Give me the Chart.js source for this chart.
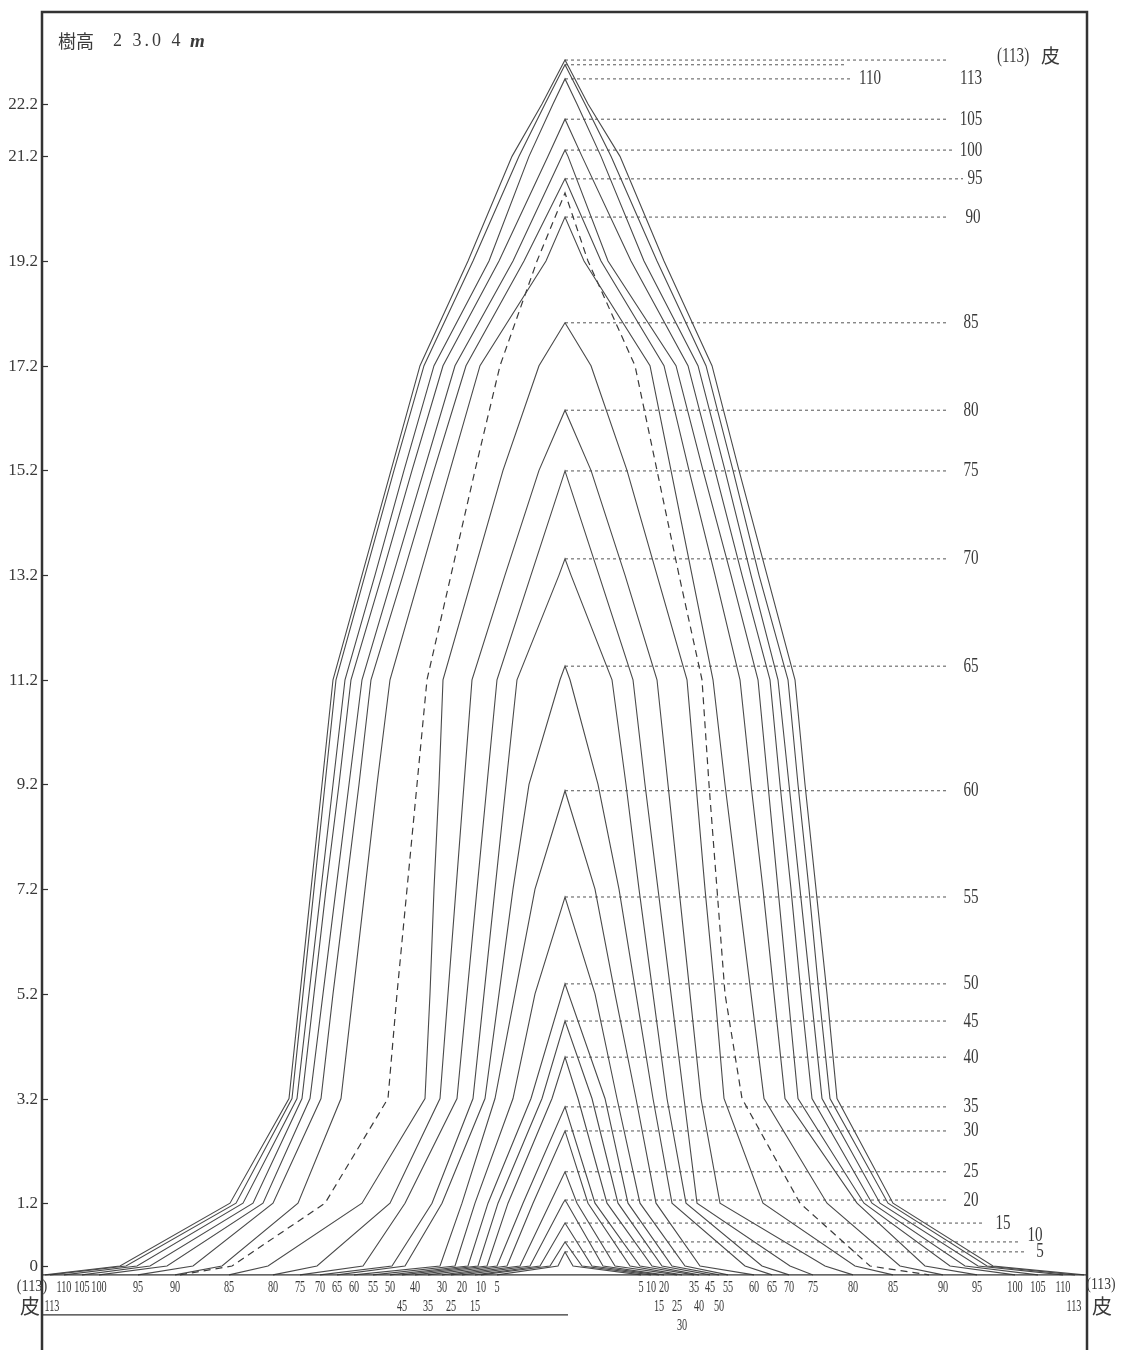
<!DOCTYPE html>
<html>
<head>
<meta charset="utf-8">
<script src="https://cdn.jsdelivr.net/npm/chart.js@4.4.0/dist/chart.umd.min.js"></script>
<style>
  html, body { margin: 0; padding: 0; background: #fff; overflow: hidden; }
</style>
</head>
<body>
<canvas id="stemChart" width="1121" height="1360"></canvas>
<script>
// --- Section heights (m). First entry is the ground line under the stump ---
const sectionHeights = [-0.17, 0, 1.2, 3.2, 5.2, 7.2, 9.2, 11.2, 13.2, 15.2, 17.2, 19.2, 21.2, 22.2];
const heightTicks = [0, 1.2, 3.2, 5.2, 7.2, 9.2, 11.2, 13.2, 15.2, 17.2, 19.2, 21.2, 22.2];

// --- Ages and tree height reached at each age (m) ---
const ageLabels = ['5', '10', '15', '20', '25', '30', '35', '40', '45', '50', '55', '60',
                   '65', '70', '75', '80', '85', '90', '95', '100', '105', '110', '113'];
const treeTops = [0.27, 0.46, 0.82, 1.26, 1.80, 2.58, 3.04, 3.99, 4.68, 5.39, 7.05, 9.08,
                  11.46, 13.51, 15.19, 16.35, 18.02, 20.04, 20.77, 21.32, 21.91, 22.68, 22.95];
const barkTop = 23.04;
const dashedTop = 20.5;

// --- Radius (mm) at each section, west side / east side ---
const left5 = [34, 3.5];
const right5 = [38, 4];
const left10 = [42, 7.5];
const right10 = [43, 8.5];
const left15 = [45, 12.5];
const right15 = [47, 13.5];
const left20 = [51.5, 17.5, 1];
const right20 = [49.5, 19, 1];
const left25 = [57, 22.5, 7.5];
const right25 = [56, 25, 6];
const left30 = [61.5, 29, 16];
const right30 = [58.5, 32.5, 11.5];
const left35 = [68.5, 34, 21];
const right35 = [64.5, 37.5, 15];
const left40 = [75, 39, 28.5, 6.5];
const right40 = [67, 43.5, 21, 6.5];
const left45 = [81.5, 43.5, 33.5, 11.5];
const right45 = [72.5, 48.5, 26.5, 13.5];
const left50 = [87.5, 48.5, 38.5, 17];
const right50 = [77, 53.5, 31.5, 20];
const left55 = [96, 55, 45, 26, 15];
const right55 = [81.5, 60, 37.5, 26, 15];
const left60 = [105.5, 62.5, 51.5, 35, 25, 15];
const right60 = [94.5, 67.5, 45.5, 35.5, 25, 15];
const left65 = [114, 80, 61.5, 40, 33, 26, 18, 2.5];
const right65 = [103.5, 90, 53.5, 44, 35.5, 27, 16.5, 2.5];
const left70 = [122.5, 86.5, 66.5, 46, 40.5, 35, 29.5, 24, 3];
const right70 = [112, 98.5, 60.5, 51, 44, 37, 30.5, 23.5, 3];
const left75 = [132.5, 101, 80, 54, 49, 44, 39, 34, 17];
const right75 = [124, 112.5, 66, 59.5, 53, 46.5, 40, 34, 17];
const left80 = [146, 124, 87.5, 62.5, 58.5, 54.5, 50.5, 46.5, 30, 13];
const right80 = [144, 130, 77.5, 68, 62.5, 57, 51.5, 46, 30, 13];
const left85 = [168, 148.5, 101.5, 70, 67.5, 65.5, 63, 61, 46, 31, 13];
const right85 = [164, 145, 99, 79.5, 75, 70, 65.5, 61, 46, 31, 13];
const left90 = [195, 171.5, 133.5, 112, 106, 100, 94, 87.5, 72.5, 57.5, 42.5, 9.5];
const right90 = [189, 167.5, 131, 99.5, 93, 86.5, 80, 74, 63.5, 53, 42.5, 9.5];
const left95 = [213.5, 186, 146, 122, 116, 109.5, 103, 97, 81, 65.5, 49.5, 20.5];
const right95 = [206, 180, 146, 110, 104.5, 99, 93, 87.5, 75, 62, 49.5, 18];
const left100 = [233, 199, 151, 127.5, 121, 114.5, 108, 101.5, 86, 70.5, 55, 26, 1.5];
const right100 = [225, 192.5, 149.5, 116.5, 111.5, 106.5, 101.5, 96.5, 83, 69, 55.5, 21.5, 1.5];
const left105 = [241.5, 207.5, 156, 131.5, 125.5, 119.5, 113, 107, 91.5, 76.5, 61, 33, 8.5];
const right105 = [236.5, 200, 153.5, 123.5, 118, 113, 107.5, 102.5, 88.5, 75, 61.5, 33, 8.5];
const left110 = [250.5, 214, 161, 134, 128, 122, 116, 110, 95, 80.5, 65.5, 38, 18, 6];
const right110 = [249, 206.5, 157.5, 128.5, 123, 117.5, 112, 106.5, 93, 80, 66.5, 39.5, 18, 6];
const left113 = [257.5, 219.5, 164.5, 136.5, 131, 125.5, 120, 114.5, 100, 85.5, 70.5, 46, 23, 10];
const right113 = [255, 211, 161.5, 132.5, 127, 122, 116.5, 111.5, 97, 84, 70.5, 46, 23, 10];
const leftBark = [260, 222.5, 167.5, 138, 132.5, 127, 121.5, 116, 101.5, 87, 72.5, 48.5, 26.5, 11.5];
const rightBark = [259.5, 214, 164, 136, 131, 125.5, 120, 115, 101, 87, 73.5, 49.5, 27.5, 11.5];
const leftDashed = [192.5, 166.5, 120, 88.5, 84, 79, 74, 69, 57, 45, 32.5, 14];
const rightDashed = [182, 152.5, 117.5, 88.5, 80, 76, 72, 68.5, 57, 46, 35, 11.5];

const leftRadii = [left5, left10, left15, left20, left25, left30, left35, left40, left45, left50,
                   left55, left60, left65, left70, left75, left80, left85, left90, left95, left100,
                   left105, left110, left113];
const rightRadii = [right5, right10, right15, right20, right25, right30, right35, right40, right45,
                    right50, right55, right60, right65, right70, right75, right80, right85, right90,
                    right95, right100, right105, right110, right113];

// --- Label layout (mm along the radius axis, rows under the ground line) ---
const leftRow = { '45': 2, '35': 2, '25': 2, '15': 2, '113': 2 };
const rightRow = { '15': 2, '25': 2, '40': 2, '50': 2, '113': 2, '30': 3 };
const leaderEnd = { '113': 141, '110': 144, '100': 195, '95': 199, '15': 210, '10': 227, '5': 230 };
const leaderLabelX = { '110': 152.5, '95': 205, '90': 204, '15': 219, '10': 235, '5': 237.5 };
const leaderLabelDy = { '113': 14, '10': -6 };

const INK = '#4a4a4a';
const SERIF = '"Liberation Serif", "DejaVu Serif", serif';
const CJK = '"Noto Sans CJK JP", sans-serif';

function profilePoints(left, right, top) {
    const pts = [];
    for (let i = 0; i < left.length; i++) pts.push({ x: -left[i], y: sectionHeights[i] });
    pts.push({ x: 0, y: top });
    for (let i = right.length - 1; i >= 0; i--) pts.push({ x: right[i], y: sectionHeights[i] });
    return pts;
}

const datasets = [];
for (let i = 0; i < ageLabels.length; i++) {
    datasets.push({
        label: ageLabels[i],
        data: profilePoints(leftRadii[i], rightRadii[i], treeTops[i]),
        borderColor: INK, borderWidth: 1.1
    });
}
datasets.push({ label: '皮', data: profilePoints(leftBark, rightBark, barkTop), borderColor: INK, borderWidth: 1.1 });
datasets.push({ label: 'dashed', data: profilePoints(leftDashed, rightDashed, dashedTop),
                borderColor: '#3a3a3a', borderWidth: 1.2, borderDash: [7, 5] });

// dotted leaders from each top to its age label
for (let i = 0; i < ageLabels.length; i++) {
    const end = leaderEnd[ageLabels[i]] !== undefined ? leaderEnd[ageLabels[i]] : 192;
    datasets.push({ label: 'lead' + ageLabels[i], data: [{ x: 0, y: treeTops[i] }, { x: end, y: treeTops[i] }],
                    borderColor: '#555', borderWidth: 1, borderDash: [3, 3] });
}
datasets.push({ label: 'leadBark', data: [{ x: 0, y: barkTop }, { x: 192, y: barkTop }],
                borderColor: '#555', borderWidth: 1, borderDash: [3, 3] });

function condensedText(ctx, text, x, y, size, squeeze, align) {
    ctx.save();
    ctx.font = size + 'px ' + SERIF;
    ctx.translate(x, y);
    ctx.scale(squeeze, 1);
    ctx.textAlign = align || 'center';
    ctx.textBaseline = 'middle';
    ctx.fillText(text, 0, 0);
    ctx.restore();
}

const stemDecor = {
    id: 'stemDecor',
    afterDraw(chart) {
        const ctx = chart.ctx;
        const xs = chart.scales.x, ys = chart.scales.y;
        const area = chart.chartArea;
        ctx.save();
        ctx.fillStyle = '#3a3a3a';
        ctx.strokeStyle = '#333';

        // frame
        ctx.lineWidth = 2.5;
        ctx.strokeRect(area.left, area.top, area.right - area.left, area.bottom - area.top);

        // height ticks inside the frame, values outside
        ctx.lineWidth = 1.2;
        heightTicks.forEach(v => {
            const py = Math.round(ys.getPixelForValue(v)) + 0.5;
            ctx.beginPath(); ctx.moveTo(area.left, py); ctx.lineTo(area.left + 6, py); ctx.stroke();
            condensedText(ctx, v === 0 ? '0' : v.toFixed(1), area.left - 4, py, 17, 1, 'right');
        });

        // ground line and the rule under the west labels
        const gy = ys.getPixelForValue(sectionHeights[0]);
        ctx.lineWidth = 1.2;
        ctx.beginPath(); ctx.moveTo(area.left, gy); ctx.lineTo(area.right, gy); ctx.stroke();
        ctx.beginPath(); ctx.moveTo(area.left, gy + 40); ctx.lineTo(xs.getPixelForValue(1.5), gy + 40); ctx.stroke();

        // ages along the ground
        const rowY = [0, gy + 13, gy + 32, gy + 51];
        for (let i = 0; i < ageLabels.length; i++) {
            const a = ageLabels[i];
            const lx = xs.getPixelForValue(-leftRadii[i][0]) + (a === '113' ? 2 : 0);
            const rx = xs.getPixelForValue(rightRadii[i][0]) + (a === '113' ? -1 : 0);
            condensedText(ctx, a, lx, rowY[leftRow[a] || 1], 16, 0.64);
            condensedText(ctx, a, rx, rowY[rightRow[a] || 1], 16, 0.64);
        }
        const lb = xs.getPixelForValue(-leftBark[0]), rb = xs.getPixelForValue(rightBark[0]);
        condensedText(ctx, '(113)', lb - 13, rowY[1] - 1, 17, 0.84);
        condensedText(ctx, '(113)', rb + 17, rowY[1] - 3, 17, 0.8);
        ctx.font = '20px ' + CJK;
        ctx.textAlign = 'center'; ctx.textBaseline = 'middle';
        ctx.fillText('皮', lb - 15, rowY[2]);
        ctx.fillText('皮', rb + 18, rowY[2]);

        // age labels at the end of the leaders
        for (let i = 0; i < ageLabels.length; i++) {
            const a = ageLabels[i];
            const lx = leaderLabelX[a] !== undefined ? leaderLabelX[a] : 203;
            const py = ys.getPixelForValue(treeTops[i]) + (leaderLabelDy[a] || 0);
            condensedText(ctx, a, xs.getPixelForValue(lx), py, 21, 0.72);
        }
        const bx = xs.getPixelForValue(216), by = ys.getPixelForValue(barkTop) - 4;
        condensedText(ctx, '(113)', bx, by, 21, 0.72, 'left');
        ctx.font = '19px ' + CJK;
        ctx.textAlign = 'left';
        ctx.fillText('皮', bx + 44, by);

        // tree height caption
        ctx.font = '18px ' + CJK;
        ctx.textAlign = 'left';
        ctx.fillText('樹高', area.left + 16, 41);
        ctx.save();
        ctx.font = '18px ' + SERIF;
        ctx.letterSpacing = '3px';
        ctx.fillText('2 3.0 4', area.left + 71, 41);
        ctx.restore();
        ctx.font = 'italic bold 19px ' + SERIF;
        ctx.fillText('m', area.left + 148, 42);
        ctx.restore();
    }
};

new Chart(document.getElementById('stemChart'), {
    type: 'line',
    data: { datasets: datasets },
    options: {
        responsive: false,
        animation: false,
        devicePixelRatio: 1,
        layout: { padding: { top: 12, right: 34, bottom: 0, left: 0 } },
        elements: { point: { radius: 0, hoverRadius: 0 }, line: { tension: 0, fill: false } },
        plugins: { legend: { display: false }, tooltip: { enabled: false } },
        scales: {
            x: { type: 'linear', min: -261.5, max: 261, display: false },
            y: {
                type: 'linear', min: -1.796, max: 23.958,
                afterBuildTicks: s => { s.ticks = heightTicks.map(v => ({ value: v })); },
                afterFit: s => { s.width = 42; },
                grid: { display: false, drawTicks: false },
                border: { display: false },
                ticks: { display: false }
            }
        }
    },
    plugins: [stemDecor]
});
</script>
</body>
</html>
